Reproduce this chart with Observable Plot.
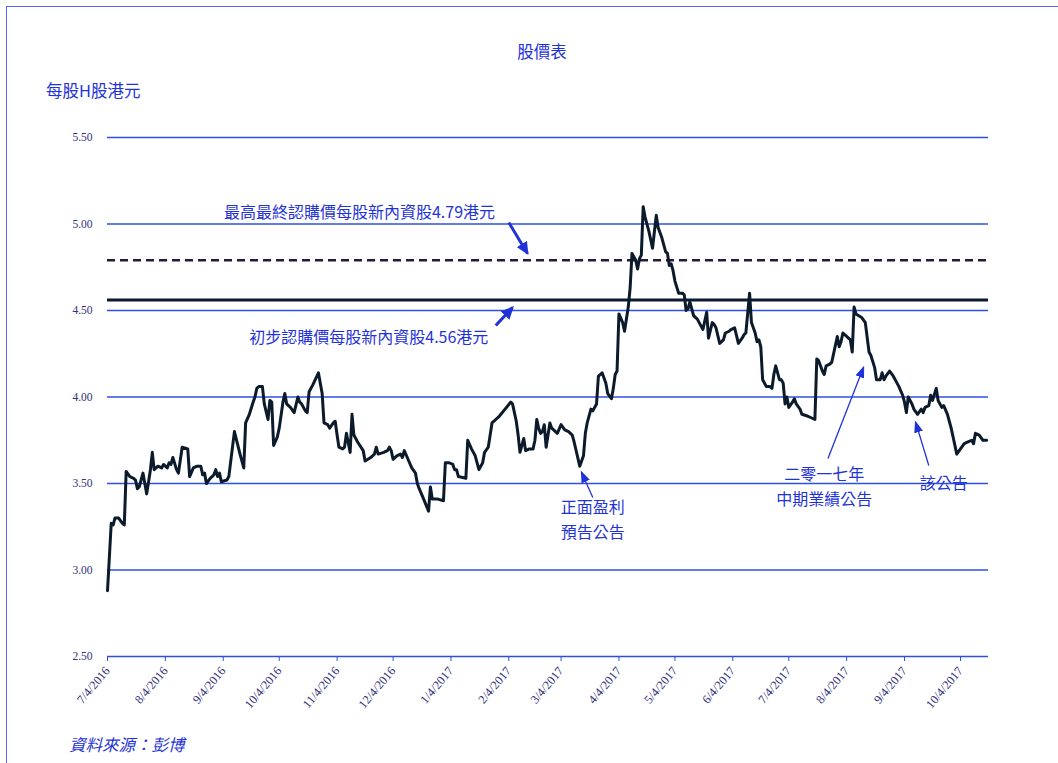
<!DOCTYPE html>
<html>
<head>
<meta charset="utf-8">
<script src="https://cdn.jsdelivr.net/npm/d3@7"></script>
<script src="https://cdn.jsdelivr.net/npm/@observablehq/plot@0.6"></script>
<style>
  html, body { margin: 0; padding: 0; background: #fff; }
  #wrap { position: relative; width: 1058px; height: 763px; overflow: hidden; }
  #frame { position: absolute; left: 6px; top: 6px; width: 1100px; height: 800px;
           border-left: 1.5px solid #5566ee; border-top: 1.5px solid #5566ee; }
  .cjk { position: absolute; font-family: "Noto Sans CJK TC", "Noto Sans", sans-serif; color: #1f33d6; font-size: 16.5px; white-space: nowrap; }
  #title { left: 0; width: 1084px; top: 39px; text-align: center; }
  #ylab { left: 46px; top: 78px; }
  #source { left: 69px; top: 732px; font-style: italic; font-size: 16.5px; }
  #chart { position: absolute; left: 0; top: 0; }
</style>
</head>
<body>
<div id="wrap">
  <div id="frame"></div>
  <div id="title" class="cjk">股價表</div>
  <div id="ylab" class="cjk">每股H股港元</div>
  <div id="chart"></div>
  <div id="source" class="cjk">資料來源：彭博</div>
</div>
<script>
// ---- data ----
const dates = [
"2016-07-04","2016-07-06","2016-07-07","2016-07-08","2016-07-10","2016-07-12","2016-07-13","2016-07-14","2016-07-16","2016-07-18",
"2016-07-19","2016-07-20","2016-07-21","2016-07-23","2016-07-24","2016-07-25","2016-07-27","2016-07-28","2016-07-29","2016-07-31",
"2016-08-02","2016-08-03","2016-08-05","2016-08-06","2016-08-07","2016-08-08","2016-08-10","2016-08-11","2016-08-13","2016-08-16",
"2016-08-17","2016-08-19","2016-08-21","2016-08-23","2016-08-24","2016-08-25","2016-08-26","2016-08-28","2016-08-30","2016-08-31",
"2016-09-01","2016-09-02","2016-09-03","2016-09-06","2016-09-07","2016-09-10","2016-09-13","2016-09-15","2016-09-16","2016-09-18",
"2016-09-20","2016-09-21","2016-09-22","2016-09-23","2016-09-25","2016-09-26","2016-09-28","2016-09-29","2016-09-30","2016-10-01",
"2016-10-03","2016-10-04","2016-10-06","2016-10-07","2016-10-08","2016-10-10","2016-10-12","2016-10-14","2016-10-15","2016-10-16",
"2016-10-18","2016-10-19","2016-10-20","2016-10-22","2016-10-25","2016-10-27","2016-10-28","2016-10-30","2016-10-31","2016-11-02",
"2016-11-03","2016-11-04","2016-11-05","2016-11-07","2016-11-08","2016-11-09","2016-11-11","2016-11-12","2016-11-13","2016-11-15",
"2016-11-18","2016-11-19","2016-11-22","2016-11-24","2016-11-25","2016-11-26","2016-11-29","2016-12-01","2016-12-02","2016-12-03",
"2016-12-04","2016-12-06","2016-12-08","2016-12-09","2016-12-10","2016-12-12","2016-12-14","2016-12-16","2016-12-17","2016-12-18",
"2016-12-20","2016-12-23","2016-12-24","2016-12-25","2016-12-28","2016-12-31","2017-01-01","2017-01-03","2017-01-05","2017-01-06",
"2017-01-07","2017-01-08","2017-01-12","2017-01-13","2017-01-15","2017-01-17","2017-01-19","2017-01-21","2017-01-22","2017-01-24",
"2017-01-26","2017-01-28","2017-01-30","2017-02-02","2017-02-05","2017-02-06","2017-02-08","2017-02-09","2017-02-10","2017-02-12",
"2017-02-13","2017-02-15","2017-02-17","2017-02-18","2017-02-19","2017-02-20","2017-02-21","2017-02-22","2017-02-23","2017-02-24",
"2017-02-26","2017-02-27","2017-03-01","2017-03-02","2017-03-04","2017-03-06","2017-03-08","2017-03-10","2017-03-11","2017-03-14",
"2017-03-16","2017-03-17","2017-03-18","2017-03-20","2017-03-21","2017-03-23","2017-03-24","2017-03-26","2017-03-28","2017-03-29",
"2017-03-31","2017-04-01","2017-04-02","2017-04-03","2017-04-04","2017-04-06","2017-04-07","2017-04-09","2017-04-10","2017-04-11",
"2017-04-13","2017-04-14","2017-04-15","2017-04-16","2017-04-17","2017-04-18","2017-04-20","2017-04-22","2017-04-24","2017-04-25",
"2017-04-27","2017-04-29","2017-04-30","2017-05-01","2017-05-02","2017-05-03","2017-05-04","2017-05-06","2017-05-08","2017-05-09",
"2017-05-10","2017-05-11","2017-05-12","2017-05-14","2017-05-16","2017-05-17","2017-05-19","2017-05-21","2017-05-22","2017-05-24",
"2017-05-25","2017-05-26","2017-05-28","2017-05-30","2017-05-31","2017-06-02","2017-06-03","2017-06-05","2017-06-07","2017-06-09",
"2017-06-10","2017-06-11","2017-06-13","2017-06-14","2017-06-16","2017-06-17","2017-06-18","2017-06-19","2017-06-20","2017-06-22",
"2017-06-24","2017-06-25","2017-06-26","2017-06-27","2017-06-29","2017-06-30","2017-07-01","2017-07-02","2017-07-03","2017-07-04",
"2017-07-06","2017-07-07","2017-07-08","2017-07-10","2017-07-11","2017-07-14","2017-07-16","2017-07-18","2017-07-19","2017-07-20",
"2017-07-22","2017-07-23","2017-07-24","2017-07-26","2017-07-27","2017-07-30","2017-07-31","2017-08-01","2017-08-02","2017-08-04",
"2017-08-06","2017-08-07","2017-08-08","2017-08-09","2017-08-12","2017-08-14","2017-08-16","2017-08-17","2017-08-19","2017-08-20",
"2017-08-22","2017-08-23","2017-08-24","2017-08-25","2017-08-27","2017-08-29","2017-08-31","2017-09-01","2017-09-03","2017-09-04",
"2017-09-05","2017-09-06","2017-09-08","2017-09-09","2017-09-11","2017-09-13","2017-09-14","2017-09-15","2017-09-17","2017-09-18",
"2017-09-19","2017-09-21","2017-09-22","2017-09-23","2017-09-24","2017-09-25","2017-09-27","2017-09-29","2017-09-30","2017-10-01",
"2017-10-02","2017-10-04","2017-10-06","2017-10-08","2017-10-10","2017-10-11","2017-10-12","2017-10-14","2017-10-16","2017-10-18"
];
const prices = [
2.88,3.27,3.26,3.30,3.30,3.27,3.26,3.57,3.54,3.53,
3.52,3.47,3.48,3.56,3.50,3.44,3.58,3.68,3.58,3.60,
3.59,3.61,3.59,3.62,3.61,3.65,3.58,3.56,3.71,3.70,
3.54,3.59,3.60,3.60,3.55,3.56,3.50,3.53,3.55,3.58,
3.54,3.56,3.51,3.52,3.54,3.80,3.67,3.59,3.85,3.90,
3.97,4.00,4.05,4.06,4.06,3.96,3.87,3.98,3.97,3.72,
3.77,3.82,3.97,4.02,3.96,3.94,3.91,4.00,3.97,3.96,
3.92,3.91,4.03,4.07,4.14,4.02,3.85,3.84,3.82,3.85,
3.86,3.78,3.71,3.70,3.71,3.79,3.68,3.90,3.78,3.74,
3.69,3.63,3.65,3.67,3.71,3.67,3.68,3.69,3.71,3.69,
3.64,3.66,3.67,3.65,3.69,3.64,3.59,3.56,3.50,3.47,
3.42,3.34,3.48,3.41,3.41,3.40,3.62,3.62,3.61,3.58,
3.58,3.54,3.53,3.75,3.70,3.66,3.58,3.62,3.68,3.71,
3.85,3.87,3.89,3.93,3.97,3.96,3.86,3.78,3.68,3.76,
3.69,3.70,3.70,3.75,3.87,3.82,3.79,3.80,3.84,3.71,
3.85,3.82,3.80,3.79,3.84,3.81,3.80,3.78,3.74,3.60,
3.66,3.79,3.85,3.93,3.92,3.96,4.12,4.14,4.08,4.02,
3.99,4.05,4.13,4.15,4.48,4.43,4.38,4.52,4.63,4.83,
4.79,4.74,4.80,4.82,5.10,5.04,4.96,4.86,5.05,4.98,
4.92,4.84,4.83,4.76,4.77,4.73,4.67,4.60,4.60,4.59,
4.50,4.51,4.55,4.47,4.45,4.43,4.39,4.49,4.34,4.43,
4.42,4.40,4.31,4.33,4.37,4.38,4.39,4.40,4.31,4.34,
4.36,4.37,4.60,4.43,4.37,4.32,4.33,4.29,4.10,4.06,
4.06,4.05,4.13,4.18,4.10,4.10,4.08,3.96,4.00,3.94,
3.97,3.99,3.96,3.93,3.90,3.89,3.88,3.87,4.22,4.21,
4.15,4.13,4.18,4.19,4.20,4.35,4.29,4.32,4.37,4.35,
4.33,4.26,4.52,4.48,4.46,4.43,4.26,4.24,4.17,4.10,
4.10,4.14,4.10,4.12,4.15,4.12,4.08,4.06,4.01,3.97,
3.91,4.00,3.96,3.93,3.90,3.93,3.91,3.94,3.95,4.01,
3.98,4.05,3.98,3.96,3.94,3.95,3.90,3.82,3.77,3.72,
3.67,3.70,3.73,3.74,3.75,3.73,3.79,3.78,3.75,3.75
];
const yTicks = [2.5, 3.0, 3.5, 4.0, 4.5, 5.0, 5.5];
const xTickDates = ["2016-07-04","2016-08-04","2016-09-04","2016-10-04","2016-11-04","2016-12-04","2017-01-04","2017-02-04","2017-03-04","2017-04-04","2017-05-04","2017-06-04","2017-07-04","2017-08-04","2017-09-04","2017-10-04"];
const xTickLabels = ["7/4/2016","8/4/2016","9/4/2016","10/4/2016","11/4/2016","12/4/2016","1/4/2017","2/4/2017","3/4/2017","4/4/2017","5/4/2017","6/4/2017","7/4/2017","8/4/2017","9/4/2017","10/4/2017"];
const finalPrice = 4.79;   // 最高最終認購價
const initialPrice = 4.56; // 初步認購價
const noteTexts = ["最高最終認購價每股新內資股4.79港元","初步認購價每股新內資股4.56港元","正面盈利","預告公告","二零一七年","中期業績公告","該公告"];
const noteDates = ["2016-11-16","2016-11-21","2017-03-21","2017-03-21","2017-07-23","2017-07-23","2017-09-25"];
const noteValues = [5.066, 4.344, 3.358, 3.214, 3.549, 3.405, 3.50];
const arrowFromDates = ["2017-02-04","2017-01-28","2017-03-21","2017-07-25","2017-09-17"];
const arrowFromValues = [5.009, 4.413, 3.419, 3.645, 3.604];
const arrowToDates = ["2017-02-14","2017-02-06","2017-03-15","2017-08-13","2017-09-10"];
const arrowToValues = [4.83, 4.517, 3.564, 4.17, 3.853];
const arrowBold = [true, true, false, false, false];

// ---- build ----
const parse = d3.utcParse("%Y-%m-%d");
const series = dates.map((d, i) => ({date: parse(d), price: prices[i]}));
const tickDates = xTickDates.map(parse);
const notes = noteTexts.map((t, i) => ({text: t, date: parse(noteDates[i]), value: noteValues[i]}));
const arrows = arrowFromDates.map((d, i) => ({x1: parse(d), y1: arrowFromValues[i], x2: parse(arrowToDates[i]), y2: arrowToValues[i], bold: arrowBold[i]}));

const blue = "#1f33d6";
const grid = "#2f4fe4";
const chart = Plot.plot({
  width: 1058,
  height: 720,
  marginLeft: 107,
  marginRight: 70,
  marginTop: 137,
  marginBottom: 64,
  style: {background: "transparent", overflow: "visible"},
  x: {type: "utc", domain: [parse("2016-07-04"), parse("2017-10-19")]},
  y: {domain: [2.5, 5.5]},
  marks: [
    Plot.ruleY(yTicks, {stroke: grid, strokeWidth: 1.3}),
    Plot.axisY({ticks: yTicks, tickFormat: d => d.toFixed(2), tickSize: 0, tickPadding: 15,
      fontFamily: "Liberation Serif", fontSize: 11.5, color: "#30307a", label: null}),
    Plot.axisX({ticks: tickDates, tickFormat: d => xTickLabels[tickDates.findIndex(t => +t === +d)],
      tickRotate: -50, tickSize: 5, tickPadding: 7, stroke: grid, fill: "#30307a",
      fontFamily: "Liberation Serif", fontSize: 12.3, label: null}),
    Plot.ruleY([finalPrice], {stroke: "#2a1838", strokeWidth: 2.5, strokeDasharray: "8,5"}),
    Plot.ruleY([initialPrice], {stroke: "#0b1a30", strokeWidth: 3}),
    Plot.line(series, {x: "date", y: "price", stroke: "#0c1b2b", strokeWidth: 3, strokeLinejoin: "round"}),
    Plot.link(arrows.filter(d => d.bold), {x1: "x1", y1: "y1", x2: "x2", y2: "y2", stroke: blue, strokeWidth: 3}),
    Plot.link(arrows.filter(d => !d.bold), {x1: "x1", y1: "y1", x2: "x2", y2: "y2", stroke: blue, strokeWidth: 1.3}),
    Plot.text(notes, {x: "date", y: "value", text: "text", fill: blue, fontSize: 16,
      fontFamily: "Noto Sans CJK TC", textAnchor: "middle"})
  ]
});

// filled triangular arrowheads for the annotation links
const ns = "http://www.w3.org/2000/svg";
const defs = document.createElementNS(ns, "defs");
function addMarker(id, len, half) {
  const m = document.createElementNS(ns, "marker");
  m.setAttribute("id", id);
  m.setAttribute("markerUnits", "userSpaceOnUse");
  m.setAttribute("viewBox", `${-len} ${-half} ${len + 2} ${2 * half}`);
  m.setAttribute("refX", "0"); m.setAttribute("refY", "0");
  m.setAttribute("markerWidth", String(len + 2)); m.setAttribute("markerHeight", String(2 * half));
  m.setAttribute("orient", "auto");
  const p = document.createElementNS(ns, "path");
  p.setAttribute("d", `M${-len},${-half}L2,0L${-len},${half}Z`);
  p.setAttribute("fill", blue);
  p.setAttribute("stroke", "none");
  m.appendChild(p);
  defs.appendChild(m);
}
addMarker("head-bold", 11, 6);
addMarker("head-thin", 10, 4.5);
chart.insertBefore(defs, chart.firstChild);
const linkGroups = chart.querySelectorAll('g[aria-label="link"]');
if (linkGroups[0]) linkGroups[0].querySelectorAll("path, line").forEach(p => p.setAttribute("marker-end", "url(#head-bold)"));
if (linkGroups[1]) linkGroups[1].querySelectorAll("path, line").forEach(p => p.setAttribute("marker-end", "url(#head-thin)"));
document.getElementById("chart").appendChild(chart);
</script>
</body>
</html>
